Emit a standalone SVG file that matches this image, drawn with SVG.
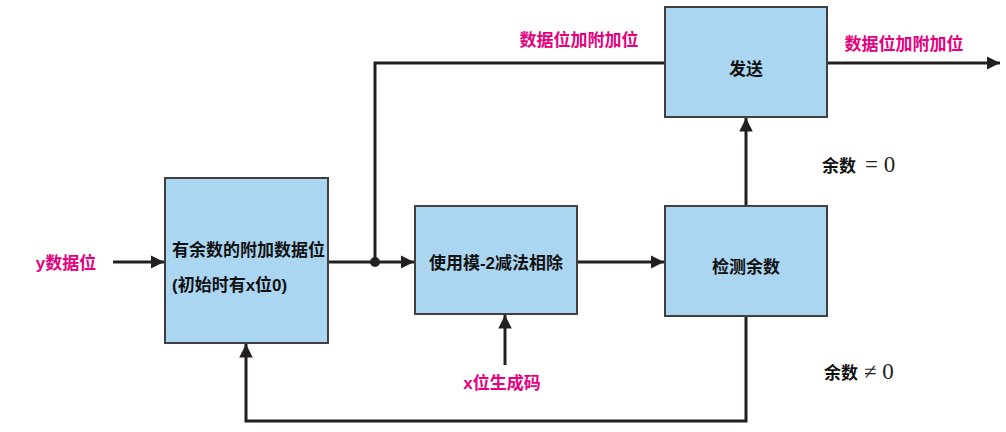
<svg xmlns="http://www.w3.org/2000/svg" width="1006" height="432" viewBox="0 0 1006 432">
<style>
.box{fill:#abd6f1;stroke:#404040;stroke-width:2}
.lbl{font-family:"Liberation Sans","Noto Sans CJK SC",sans-serif;font-weight:bold;font-size:17px;fill:#111}
.pink{font-family:"Liberation Sans","Noto Sans CJK SC",sans-serif;font-weight:bold;font-size:17px;fill:#e6007e}
.math{font-family:"Liberation Serif",serif;font-size:23px;fill:#222}
.ln{fill:none;stroke:#231f20;stroke-width:3}
</style>
<defs>
<marker id="ah" viewBox="0 0 10 10" refX="10" refY="5" markerWidth="4.5" markerHeight="4.5" orient="auto" markerUnits="strokeWidth">
<path d="M0,0 L10,5 L0,10 Z" fill="#231f20"/>
</marker>
</defs>
<g id="connectors">
<line class="ln" x1="113" y1="262" x2="164" y2="262" marker-end="url(#ah)"/>
<line class="ln" x1="328" y1="262" x2="414" y2="262" marker-end="url(#ah)"/>
<circle cx="375" cy="262" r="5" fill="#231f20"/>
<polyline class="ln" points="375,262 375,63 665,63"/>
<line class="ln" x1="827" y1="63" x2="1000" y2="63" marker-end="url(#ah)"/>
<line class="ln" x1="577" y1="262" x2="664" y2="262" marker-end="url(#ah)"/>
<line class="ln" x1="746" y1="206" x2="746" y2="118" marker-end="url(#ah)"/>
<line class="ln" x1="505" y1="365" x2="505" y2="315" marker-end="url(#ah)"/>
<polyline class="ln" points="746,316 746,421 246,421 246,344" marker-end="url(#ah)"/>
</g>
<g id="node-append">
<rect class="box" x="165" y="178" width="163" height="165"/>
<text class="lbl" x="172" y="256">有余数的附加数据位</text>
<text class="lbl" x="172" y="291">(初始时有x位0)</text>
</g>
<g id="node-divide">
<rect class="box" x="415" y="206" width="162" height="108"/>
<text class="lbl" x="496" y="269" text-anchor="middle">使用模-2减法相除</text>
</g>
<g id="node-send">
<rect class="box" x="665" y="7" width="162" height="110"/>
<text class="lbl" x="746" y="75" text-anchor="middle">发送</text>
</g>
<g id="node-check">
<rect class="box" x="665" y="206" width="162" height="110"/>
<text class="lbl" x="746" y="273" text-anchor="middle">检测余数</text>
</g>
<g id="labels">
<text class="pink" x="579" y="46" text-anchor="middle">数据位加附加位</text>
<text class="pink" x="904" y="50" text-anchor="middle">数据位加附加位</text>
<text class="pink" x="66" y="269" text-anchor="middle">y数据位</text>
<text class="pink" x="502" y="389" text-anchor="middle">x位生成码</text>
<text x="822" y="172"><tspan class="lbl">余数</tspan><tspan class="math" dx="9">= 0</tspan></text>
<text x="824" y="379"><tspan class="lbl">余数</tspan><tspan class="math" dx="6">≠ 0</tspan></text>
</g>
</svg>
